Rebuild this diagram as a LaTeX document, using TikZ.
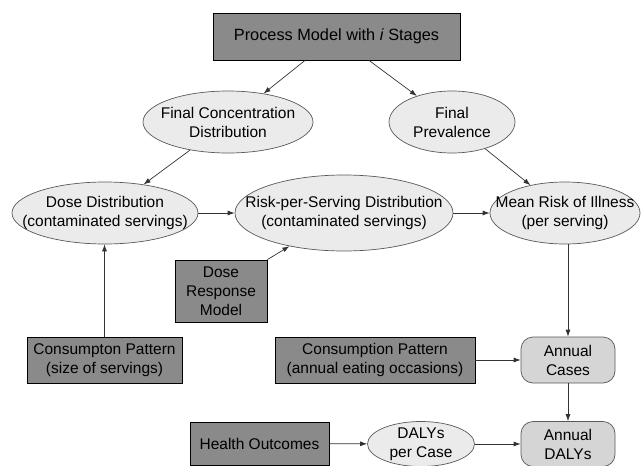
\documentclass[tikz,border=0pt]{standalone}
\usepackage{fontspec}
\setmainfont{Liberation Sans}
\usetikzlibrary{shapes.geometric,arrows.meta}
\definecolor{boxgray}{HTML}{8A8A8A}
\definecolor{ellfill}{HTML}{EBEBEB}
\definecolor{rndfill}{HTML}{D5D5D5}
\definecolor{linecol}{HTML}{333333}
\begin{document}
\begin{tikzpicture}[x=1pt,y=-1pt,
  every node/.style={font=\fontsize{15.5}{19}\selectfont, text=black},
  gbox/.style={draw=black, line width=0.8pt, fill=boxgray, inner sep=0pt, align=center},
  ell/.style={ellipse, draw=black!65, line width=0.7pt, fill=ellfill, inner sep=0pt},
  lbl/.style={align=center, inner sep=0pt},
  rbox/.style={draw=black!65, rounded corners=12pt, fill=rndfill, line width=0.7pt, inner sep=0pt, align=center},
  conn/.style={draw=linecol, line width=0.7pt, -{Latex[length=7pt,width=5pt]}}
]
\useasboundingbox (0,0) rectangle (641,466);
\fill[white] (0,0) rectangle (641,466);

% boxes
\node[gbox, minimum width=247pt, minimum height=47pt, font=\fontsize{16.3}{19}\selectfont] (top) at (336.5,36.5) {Process Model with \textit{i} Stages};
\node[gbox, minimum width=92pt, minimum height=62pt] (drm) at (221,291) {Dose\\Response\\Model};
\node[gbox, minimum width=155pt, minimum height=46pt] (cp1) at (104.5,360) {Consumpton Pattern\\(size of servings)};
\node[gbox, minimum width=200pt, minimum height=46pt] (cp2) at (375,360) {Consumption Pattern\\(annual eating occasions)};
\node[gbox, minimum width=139pt, minimum height=43pt] (ho) at (259.5,443.5) {Health Outcomes};

% rounded boxes
\node[rbox, minimum width=94pt, minimum height=46pt] (ac) at (568,360) {Annual\\Cases};
\node[rbox, minimum width=94pt, minimum height=45pt] (ad) at (568,444) {Annual\\DALYs};

% ellipses
\node[ell, minimum width=170pt, minimum height=62pt] (fcd) at (228,122) {};
\node[lbl] (fcdt) at (fcd) {Final Concentration\\Distribution};
\node[ell, minimum width=126pt, minimum height=62pt] (fp) at (452,122) {};
\node[lbl] (fpt) at (fp) {Final\\Prevalence};
\node[ell, minimum width=186pt, minimum height=62pt] (dose) at (105,213) {};
\node[lbl] (doset) at (dose) {Dose Distribution\\(contaminated servings)};
\node[ell, minimum width=218pt, minimum height=76pt] (rps) at (344,213) {};
\node[lbl] (rpst) at (rps) {Risk-per-Serving Distribution\\(contaminated servings)};
\node[ell, minimum width=150pt, minimum height=62pt] (mri) at (565,213) {};
\node[lbl] (mrit) at (mri) {Mean Risk of Illness\\(per serving)};
\node[ell, minimum width=107pt, minimum height=45pt] (dpc) at (421,444) {};
\node[lbl] (dpct) at (dpc) {DALYs\\per Case};

% connectors
\draw[conn] ([xshift=-31.5pt]top.south) -- (fcd);
\draw[conn] ([xshift=32.5pt]top.south) -- (fp);
\draw[conn] (fcd) -- (dose);
\draw[conn] (fp) -- (mri);
\draw[conn] (dose) -- (rps);
\draw[conn] (rps) -- (mri);
\draw[conn] (drm.north east) -- (rps);
\draw[conn] (cp1.north) -- (cp1.north |- dose.south);
\draw[conn] (ac.north |- mri.south) -- (ac.north);
\draw[conn] (cp2) -- (ac);
\draw[conn] (ac) -- (ad);
\draw[conn] (ho) -- (dpc);
\draw[conn] (dpc) -- (ad);
\end{tikzpicture}
\end{document}
